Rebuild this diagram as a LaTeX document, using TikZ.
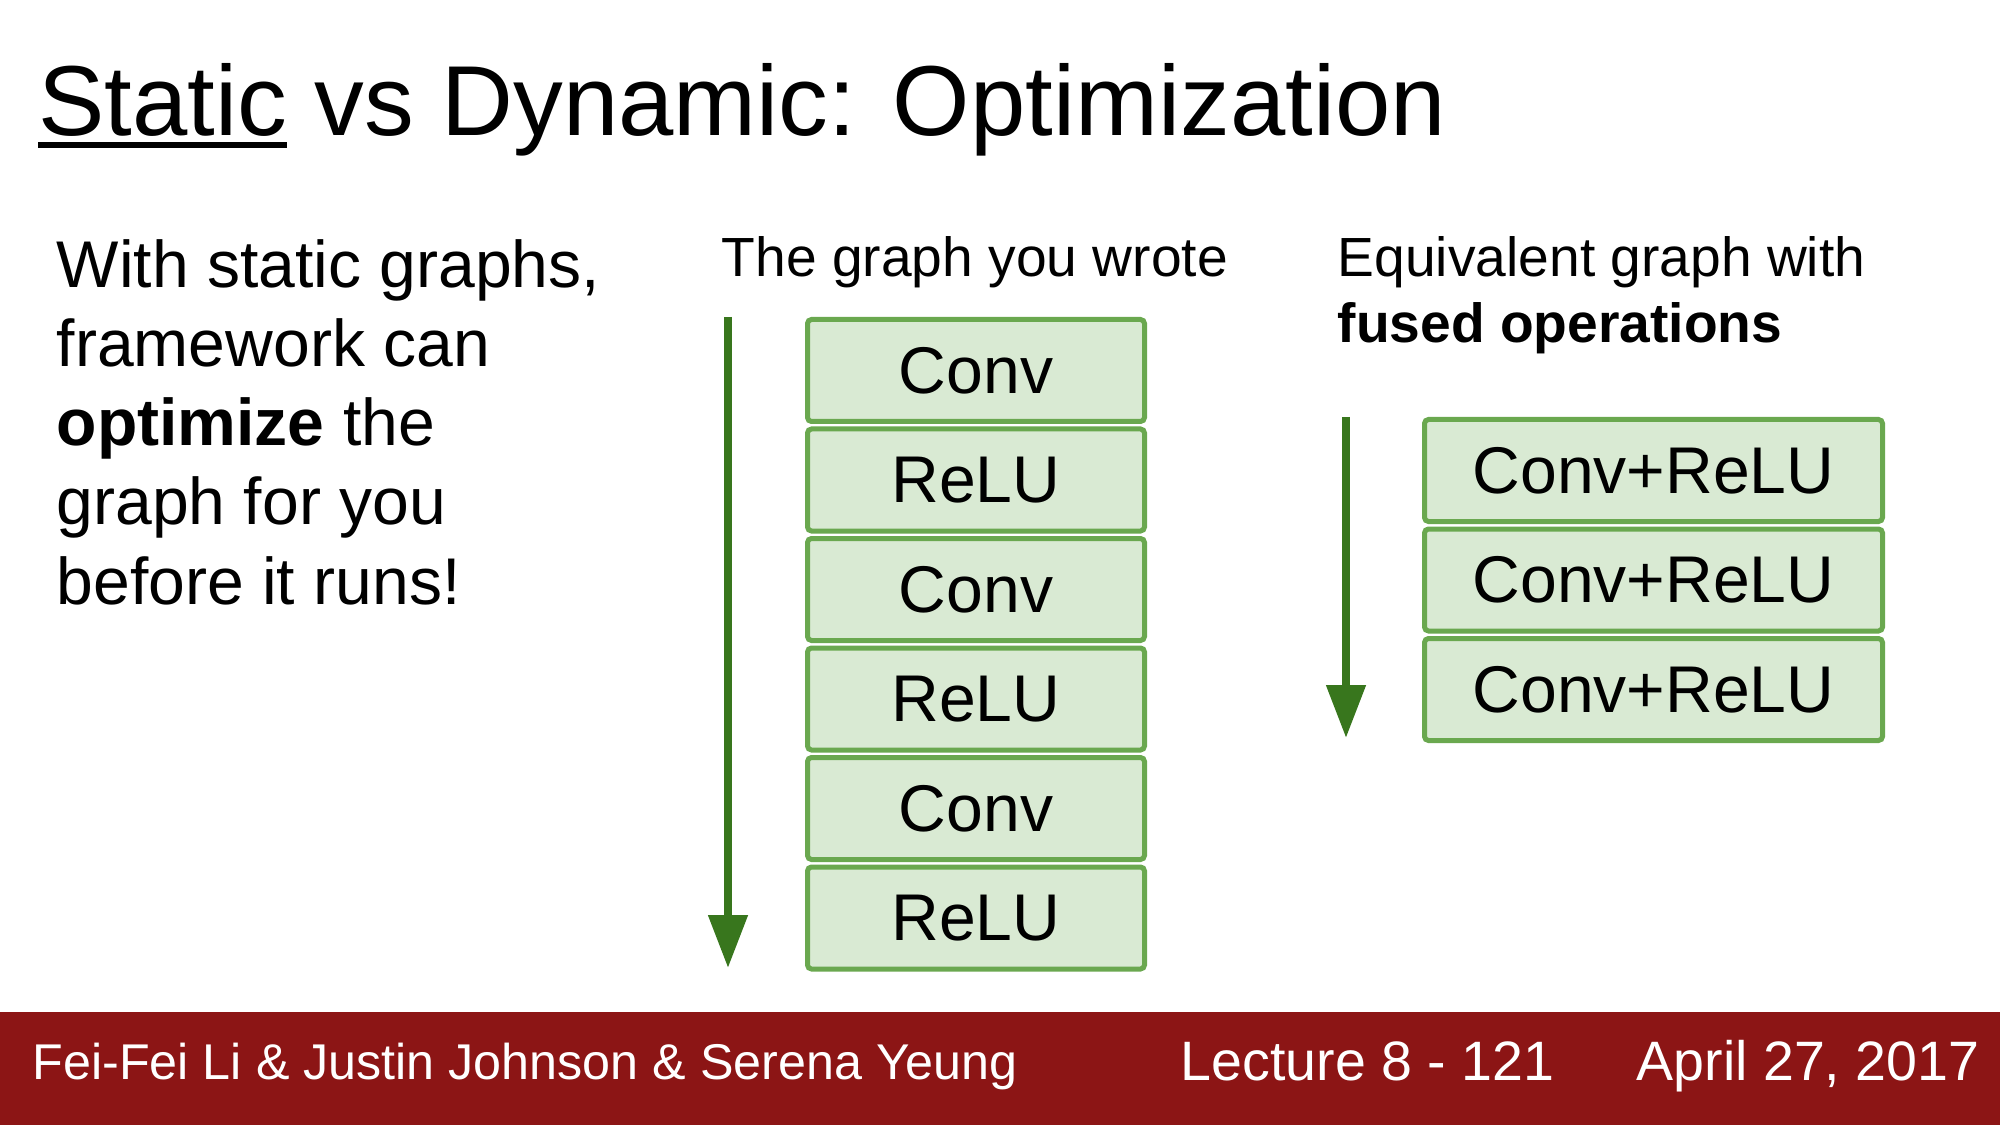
\documentclass[tikz,border=0pt]{standalone}
\usepackage{fontspec}
\setmainfont{Liberation Sans}
\definecolor{boxgreen}{HTML}{6AA84F}
\definecolor{boxfill}{HTML}{D9EAD3}
\definecolor{arrowgreen}{HTML}{38761D}
\definecolor{footred}{HTML}{8C1515}
\usetikzlibrary{positioning, arrows.meta}
\newcommand{\ulword}[1]{\setbox0\hbox{#1}\rlap{\rule[-0.123em]{\wd0}{0.066em}}\box0\relax}

\begin{document}
\begin{tikzpicture}[
  opbox/.style={draw=boxgreen, fill=boxfill, line width=0.5mm, rounded corners=0.4mm,
              minimum width=3.37cm, minimum height=1.02cm, inner sep=0pt,
              font=\fontsize{18.8}{22}\selectfont},
  fusedbox/.style={opbox, minimum width=4.58cm},
  flowarrow/.style={draw=arrowgreen, line width=0.8mm,
              -{Triangle[width=3.8mm, length=5.3mm, fill=arrowgreen]}},
  bodytext/.style={anchor=base west, inner sep=0pt, font=\fontsize{18.8}{22.5}\selectfont},
  heading/.style={anchor=base west, inner sep=0pt, font=\fontsize{15.7}{18.5}\selectfont},
  foot/.style={anchor=base west, inner sep=0pt, text=white},
]
\useasboundingbox (0,0) rectangle (20,11.25);

% title
\node[anchor=base west, inner sep=0pt, font=\fontsize{28.3}{34}\selectfont] (title) at (0.375,9.89)
  {\ulword{Static} vs Dynamic: Optimization};

% left text
\node[bodytext] (line1) at (0.56,8.37) {With static graphs,};
\node[bodytext] (line2) at (0.56,7.58) {framework can};
\node[bodytext] (line3) at (0.56,6.79) {\textbf{optimize} the};
\node[bodytext] (line4) at (0.56,6.00) {graph for you};
\node[bodytext] (line5) at (0.56,5.21) {before it runs!};

% the graph you wrote
\node[heading] (wrote) at (7.21,8.48) {The graph you wrote};
\coordinate (flowtop) at (7.28,8.08);
\coordinate (flowend) at (7.28,1.57);
\draw[flowarrow] (flowtop) -- (flowend);

\node[opbox] (conv1) at (9.76,7.545) {Conv};
\node[opbox] (relu1) at (9.76,6.450) {ReLU};
\node[opbox] (conv2) at (9.76,5.355) {Conv};
\node[opbox] (relu2) at (9.76,4.260) {ReLU};
\node[opbox] (conv3) at (9.76,3.165) {Conv};
\node[opbox] (relu3) at (9.76,2.070) {ReLU};

% fused graph
\node[heading] (equiv) at (13.37,8.48) {Equivalent graph with};
\node[heading] (fused) at (13.37,7.82) {\textbf{fused operations}};
\coordinate (fusedtop) at (13.46,7.08);
\coordinate (fusedend) at (13.46,3.87);
\draw[flowarrow] (fusedtop) -- (fusedend);

\node[fusedbox] (fused1) at (16.535,6.545) {Conv+ReLU};
\node[fusedbox] (fused2) at (16.535,5.450) {Conv+ReLU};
\node[fusedbox] (fused3) at (16.535,4.355) {Conv+ReLU};

% footer
\fill[footred] (0,0) rectangle (20,1.13);
\node[foot, font=\fontsize{14.3}{17}\selectfont] (authors) at (0.32,0.46)
  {Fei-Fei Li \& Justin Johnson \& Serena Yeung};
\node[foot, font=\fontsize{15.8}{18.5}\selectfont] (lecture) at (11.80,0.45) {Lecture 8 - 121};
\node[foot, font=\fontsize{15.8}{18.5}\selectfont] (date) at (16.36,0.45) {April 27, 2017};
\end{tikzpicture}
\end{document}
